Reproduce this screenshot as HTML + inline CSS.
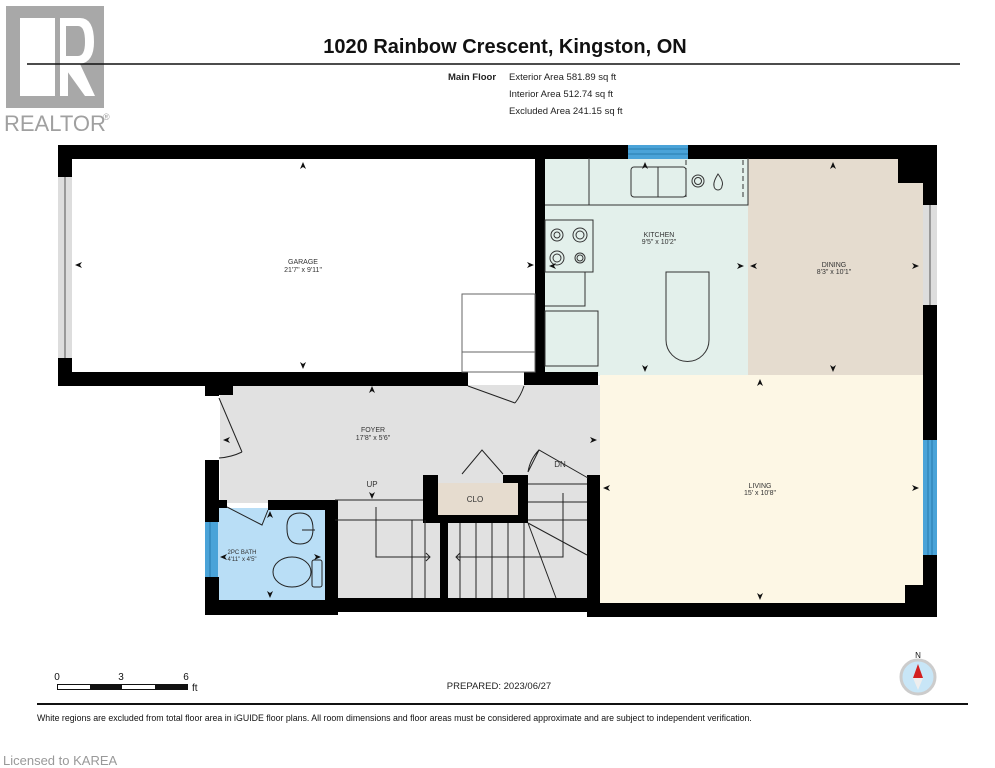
<!DOCTYPE html>
<html><head><meta charset="utf-8"><style>
html,body{margin:0;padding:0;background:#fff;width:995px;height:768px;overflow:hidden}
svg{display:block}
text{font-family:"Liberation Sans",Arial,sans-serif}
</style></head><body>
<svg width="995" height="768" viewBox="0 0 995 768" xmlns="http://www.w3.org/2000/svg">
<defs>
<g id="ar"><path d="M-3,3 L0,-4 L3,3 L0,1 Z" fill="#111"/></g>
</defs>
<!-- logo -->
<rect x="6" y="6" width="98" height="102" fill="#a8a8a8"/>
<rect x="20" y="18" width="35" height="78" fill="#fff"/>
<path d="M60,18 H80 Q94,18 94,42 Q94,62 80,64 L95,96 H85 L62,64 H60 Z" fill="#fff"/>
<path d="M66,26 H78 Q85,26 85,42 Q85,56 78,56 H66 Z" fill="#a8a8a8"/>
<rect x="60" y="64" width="8" height="32" fill="#fff"/>
<text x="4" y="131" font-size="22" fill="#a0a0a0">REALTOR</text>
<text x="103" y="120" font-size="9" fill="#a0a0a0">®</text>
<!-- header -->
<text x="505" y="53" font-size="20" font-weight="bold" text-anchor="middle" fill="#111">1020 Rainbow Crescent, Kingston, ON</text>
<line x1="27" y1="64" x2="960" y2="64" stroke="#111" stroke-width="1.5"/>
<text x="448" y="80" font-size="9.5" font-weight="bold" fill="#222">Main Floor</text>
<text x="509" y="80" font-size="9.5" fill="#222">Exterior Area 581.89 sq ft</text>
<text x="509" y="97" font-size="9.5" fill="#222">Interior Area 512.74 sq ft</text>
<text x="509" y="114" font-size="9.5" fill="#222">Excluded Area 241.15 sq ft</text>
<!-- room fills -->
<rect x="545" y="158" width="203" height="218" fill="#e3f0eb"/>
<rect x="748" y="158" width="175" height="218" fill="#e5dccf"/>
<rect x="600" y="375" width="323" height="228" fill="#fdf7e5"/>
<rect x="220" y="385" width="380" height="118" fill="#e1e1e1"/>
<rect x="335" y="500" width="255" height="100" fill="#e1e1e1"/>
<rect x="218" y="508" width="110" height="92" fill="#b9def6"/>
<rect x="431" y="483" width="87" height="32" fill="#e6dccf"/>
<!-- walls -->
<g fill="#000">
<rect x="58" y="145" width="570" height="14"/>
<rect x="688" y="145" width="249" height="14"/>
<rect x="58" y="145" width="14" height="32"/>
<rect x="58" y="358" width="14" height="28"/>
<rect x="58" y="372" width="410" height="14"/>
<rect x="524" y="372" width="74" height="13"/>
<rect x="535" y="158" width="10" height="218"/>
<rect x="898" y="145" width="39" height="38"/>
<rect x="923" y="145" width="14" height="60"/>
<rect x="923" y="305" width="14" height="135"/>
<rect x="923" y="555" width="14" height="62"/>
<rect x="905" y="585" width="32" height="32"/>
<rect x="587" y="603" width="350" height="14"/>
<rect x="587" y="475" width="13" height="142"/>
<rect x="335" y="598" width="265" height="14"/>
<rect x="205" y="380" width="28" height="15"/>
<rect x="205" y="380" width="14" height="16"/>
<rect x="205" y="460" width="14" height="62"/>
<rect x="205" y="577" width="14" height="38"/>
<rect x="205" y="600" width="133" height="15"/>
<rect x="205" y="500" width="22" height="8"/>
<rect x="268" y="500" width="70" height="10"/>
<rect x="325" y="500" width="13" height="115"/>
<rect x="423" y="475" width="15" height="48"/>
<rect x="423" y="475" width="15" height="8"/>
<rect x="503" y="475" width="25" height="8"/>
<rect x="518" y="475" width="10" height="48"/>
<rect x="423" y="515" width="105" height="8"/>
<rect x="440" y="515" width="8" height="85"/>
</g>
<!-- windows -->
<rect x="628" y="145" width="60" height="14" fill="#4aa3d8"/>
<line x1="628" y1="149" x2="688" y2="149" stroke="#1e6fa0" stroke-width="0.8"/>
<line x1="628" y1="154" x2="688" y2="154" stroke="#1e6fa0" stroke-width="0.8"/>
<rect x="923" y="440" width="14" height="115" fill="#4aa3d8"/>
<line x1="928" y1="440" x2="928" y2="555" stroke="#1e6fa0" stroke-width="0.8"/>
<line x1="932" y1="440" x2="932" y2="555" stroke="#1e6fa0" stroke-width="0.8"/>
<rect x="205" y="522" width="13" height="55" fill="#4aa3d8"/>
<line x1="210" y1="522" x2="210" y2="577" stroke="#1e6fa0" stroke-width="0.8"/>
<rect x="58" y="177" width="14" height="181" fill="#ddd"/>
<line x1="65" y1="177" x2="65" y2="358" stroke="#333" stroke-width="0.8"/>
<rect x="923" y="205" width="14" height="100" fill="#ddd"/>
<line x1="930" y1="205" x2="930" y2="305" stroke="#333" stroke-width="0.8"/>
<!-- garage fixtures -->
<g fill="none" stroke="#666" stroke-width="1">
<rect x="462" y="294" width="73" height="78"/>
<line x1="462" y1="352" x2="535" y2="352"/>
</g>
<!-- kitchen fixtures -->
<g fill="none" stroke="#333" stroke-width="1">
<path d="M545,205 H589 V158 M589,200 V205 H748 V158"/>
<rect x="545" y="220" width="48" height="52"/>
<circle cx="557" cy="235" r="6"/><circle cx="557" cy="235" r="3"/>
<circle cx="580" cy="235" r="7"/><circle cx="580" cy="235" r="4"/>
<circle cx="557" cy="258" r="7"/><circle cx="557" cy="258" r="4"/>
<circle cx="580" cy="258" r="5"/><circle cx="580" cy="258" r="3"/>
<path d="M585,272 V306 H545"/>
<rect x="545" y="311" width="53" height="55"/>
<path d="M666,272 H709 V340 A21.5,21.5 0 0 1 666,340 Z"/>
<rect x="631" y="167" width="55" height="30" rx="3"/>
<line x1="658" y1="167" x2="658" y2="197"/>
<circle cx="698" cy="181" r="6"/><circle cx="698" cy="181" r="3.5"/>
<path d="M718,174 Q724,182 722,186 A4,4 0 0 1 714,186 Q713,182 718,174Z"/>
<path d="M686,160 V198 M743,160 V198" stroke-dasharray="5,3"/>
</g>
<!-- foyer doors, stairs -->
<g fill="none" stroke="#222" stroke-width="1">
<path d="M219,398 L242,452 M219,458 A62,62 0 0 0 242,452" />
<path d="M468,386 L515,403 M515,403 A55,55 0 0 0 524,386"/>
<path d="M462,474 L482,450 L503,474"/>
<path d="M528,472 L539,450 L588,478 M528,472 A40,40 0 0 1 539,450"/>
<path d="M227,507 L262,525 L268,510"/>
<line x1="335" y1="500" x2="423" y2="500"/>
<line x1="335" y1="520" x2="423" y2="520"/>
<line x1="528" y1="484" x2="587" y2="484"/>
<line x1="528" y1="502" x2="587" y2="502"/>
<line x1="528" y1="520" x2="587" y2="520"/>
<path d="M376,507 V557 H430 M426,553 L430,557 L426,561"/>
<path d="M563,493 V557 H456 M460,553 L456,557 L460,561"/>
<path d="M412,520 V598 M425,520 V598 M460,523 V598 M476,523 V598 M492,523 V598 M508,523 V598 M524,523 V598"/>
<path d="M528,523 L587,555 M528,523 L556,598"/>
<path d="M300,513 Q286,513 287,529 Q287,544 300,544 Q313,544 313,529 Q313,513 300,513Z"/>
<line x1="302" y1="530" x2="315" y2="530"/>
<ellipse cx="292" cy="572" rx="19" ry="15"/>
<rect x="312" y="560" width="10" height="27" rx="2"/>
</g>
<!-- labels -->
<g font-size="7" fill="#333" text-anchor="middle">
<text x="303" y="264">GARAGE</text><text x="303" y="272">21'7" x 9'11"</text>
<text x="659" y="237">KITCHEN</text><text x="659" y="244">9'5" x 10'2"</text>
<text x="834" y="267">DINING</text><text x="834" y="274">8'3" x 10'1"</text>
<text x="760" y="488">LIVING</text><text x="760" y="495">15' x 10'8"</text>
<text x="373" y="432">FOYER</text><text x="373" y="440">17'8" x 5'6"</text>
<text x="242" y="554" font-size="6">2PC BATH</text><text x="242" y="561" font-size="6">4'11" x 4'5"</text>
<text x="475" y="502" font-size="8">CLO</text>
<text x="372" y="487" font-size="8">UP</text>
<text x="560" y="467" font-size="8">DN</text>
</g>
<!-- arrows -->
<g>
<use href="#ar" transform="translate(303,166)"/>
<use href="#ar" transform="translate(303,365) rotate(180)"/>
<use href="#ar" transform="translate(79,265) rotate(-90)"/>
<use href="#ar" transform="translate(530,265) rotate(90)"/>
<use href="#ar" transform="translate(645,166)"/>
<use href="#ar" transform="translate(645,368) rotate(180)"/>
<use href="#ar" transform="translate(553,266) rotate(-90)"/>
<use href="#ar" transform="translate(740,266) rotate(90)"/>
<use href="#ar" transform="translate(833,166)"/>
<use href="#ar" transform="translate(833,368) rotate(180)"/>
<use href="#ar" transform="translate(754,266) rotate(-90)"/>
<use href="#ar" transform="translate(915,266) rotate(90)"/>
<use href="#ar" transform="translate(760,383)"/>
<use href="#ar" transform="translate(760,596) rotate(180)"/>
<use href="#ar" transform="translate(607,488) rotate(-90)"/>
<use href="#ar" transform="translate(915,488) rotate(90)"/>
<use href="#ar" transform="translate(372,390)"/>
<use href="#ar" transform="translate(372,495) rotate(180)"/>
<use href="#ar" transform="translate(227,440) rotate(-90)"/>
<use href="#ar" transform="translate(593,440) rotate(90)"/>
<use href="#ar" transform="translate(270,515)"/>
<use href="#ar" transform="translate(270,594) rotate(180)"/>
<use href="#ar" transform="translate(224,557) rotate(-90)"/>
<use href="#ar" transform="translate(317,557) rotate(90)"/>
</g>
<!-- scale -->
<text x="57" y="680" font-size="10" fill="#111" text-anchor="middle">0</text>
<text x="121" y="680" font-size="10" fill="#111" text-anchor="middle">3</text>
<text x="186" y="680" font-size="10" fill="#111" text-anchor="middle">6</text>
<text x="192" y="691" font-size="10" fill="#111">ft</text>
<rect x="57.5" y="684.5" width="130" height="5" fill="#fff" stroke="#111"/>
<rect x="90" y="684" width="32" height="6" fill="#111"/>
<rect x="155" y="684" width="32" height="6" fill="#111"/>
<text x="499" y="689" font-size="9.5" fill="#222" text-anchor="middle">PREPARED: 2023/06/27</text>
<text x="918" y="658" font-size="8" fill="#111" text-anchor="middle">N</text>
<circle cx="918" cy="677" r="17" fill="#c8e6f7" stroke="#ccc" stroke-width="3"/>
<path d="M918,664 L923,678 L913,678Z" fill="#d32020"/>
<path d="M913,678 L923,678 L918,690Z" fill="#eee"/>
<line x1="37" y1="704" x2="968" y2="704" stroke="#111" stroke-width="2"/>
<text x="37" y="721" font-size="8.8" fill="#111">White regions are excluded from total floor area in iGUIDE floor plans. All room dimensions and floor areas must be considered approximate and are subject to independent verification.</text>
<text x="3" y="765" font-size="13" fill="#999">Licensed to KAREA</text>
</svg>
</body></html>
